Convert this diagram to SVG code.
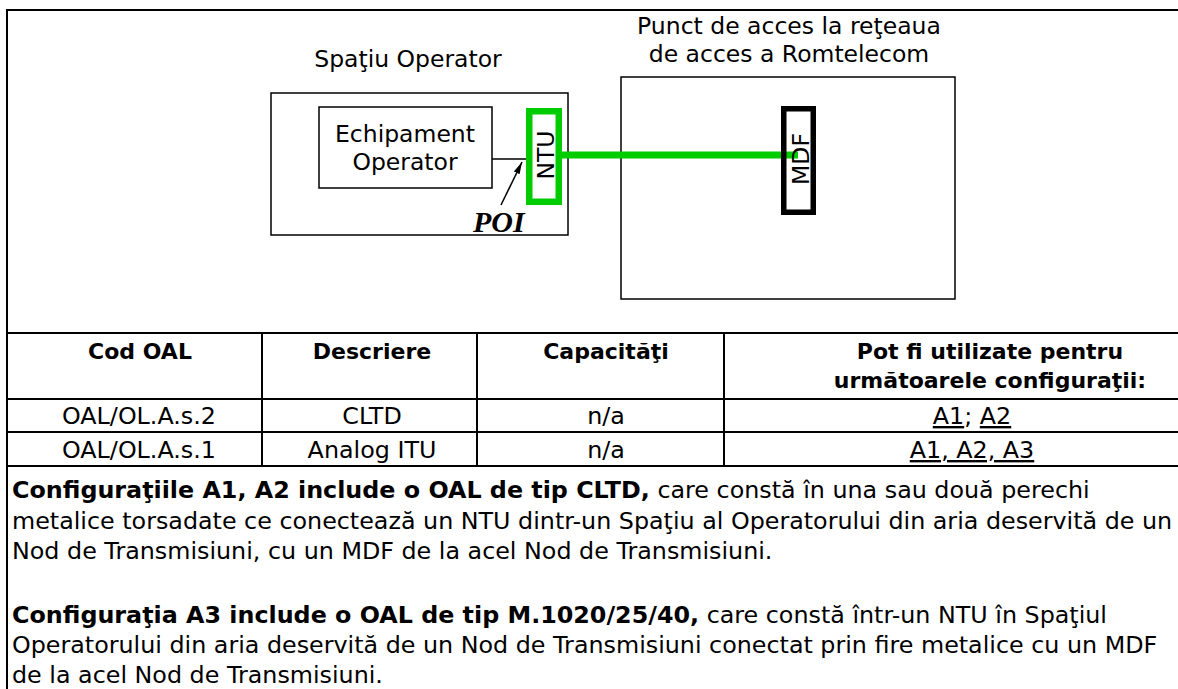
<svg xmlns="http://www.w3.org/2000/svg" width="1178" height="689" viewBox="0 0 1178 689">
<style>
.lbl{font-family:"DejaVu Sans",Verdana,sans-serif;font-size:23.5px;fill:#000;text-anchor:middle}
.th{font-family:"DejaVu Sans",Verdana,sans-serif;font-size:22px;font-weight:bold;fill:#000;text-anchor:middle}
.td{font-family:"DejaVu Sans",Verdana,sans-serif;font-size:23.8px;fill:#000;text-anchor:middle}
.body{font-family:"DejaVu Sans",Verdana,sans-serif;font-size:23.8px;fill:#000}
.b{font-weight:bold}
.box{fill:#fff;stroke:#000;stroke-width:1.5}
.grid{stroke:#000;stroke-width:2;fill:none}
</style>
<defs>
<marker id="ah" viewBox="0 0 10 10" refX="10" refY="5" markerWidth="12" markerHeight="8" orient="auto" markerUnits="userSpaceOnUse" preserveAspectRatio="none">
<path d="M0,1 L10,5 L0,9 z" fill="#000"/>
</marker>
</defs>
<rect width="1178" height="689" fill="#fff"/>
<g id="frame" class="grid">
<line x1="7" y1="10" x2="1178" y2="10"/>
<line x1="7" y1="9" x2="7" y2="689"/>
<line x1="7" y1="333" x2="1178" y2="333"/>
<line x1="7" y1="399" x2="1178" y2="399"/>
<line x1="7" y1="432" x2="1178" y2="432"/>
<line x1="7" y1="466" x2="1178" y2="466"/>
<line x1="262" y1="333" x2="262" y2="466"/>
<line x1="477" y1="333" x2="477" y2="466"/>
<line x1="724" y1="333" x2="724" y2="466"/>
</g>
<g id="spatiu-operator">
<rect class="box" x="271" y="93" width="297" height="142"/>
<text class="lbl" x="408" y="67">Spaţiu Operator</text>
</g>
<g id="punct-acces">
<rect class="box" x="621" y="77" width="334" height="222"/>
<text class="lbl" x="789" y="34">Punct de acces la reţeaua</text>
<text class="lbl" x="789" y="62">de acces a Romtelecom</text>
</g>
<g id="echipament">
<rect class="box" x="319" y="107" width="173" height="81"/>
<text class="lbl" x="405" y="142">Echipament</text>
<text class="lbl" x="405" y="170">Operator</text>
</g>
<g id="connectors">
<line x1="492" y1="159" x2="527" y2="159" stroke="#000" stroke-width="1.5"/>
<line x1="562" y1="155" x2="798" y2="155" stroke="#00cc00" stroke-width="7"/>
<line x1="501" y1="205" x2="522" y2="162" stroke="#000" stroke-width="1.5" marker-end="url(#ah)"/>
</g>
<g id="ntu">
<rect x="529.25" y="111.25" width="29.5" height="90.5" fill="none" stroke="#00cc00" stroke-width="6.5"/>
<text class="lbl" transform="translate(554,155) rotate(-90)">NTU</text>
</g>
<g id="mdf">
<rect x="783.75" y="108.75" width="29.5" height="103.5" fill="none" stroke="#000" stroke-width="5.5"/>
<text class="lbl" transform="translate(809,159) rotate(-90)">MDF</text>
</g>
<g id="poi">
<text x="473" y="232" font-family="'Liberation Serif','Times New Roman',serif" font-size="30" font-weight="bold" font-style="italic">POI</text>
</g>
<g id="table">
<text class="th" x="140" y="359">Cod OAL</text>
<text class="th" x="372" y="359">Descriere</text>
<text class="th" x="606" y="359">Capacităţi</text>
<text class="th" x="990" y="359">Pot fi utilizate pentru</text>
<text class="th" x="990" y="388">următoarele configuraţii:</text>
<text class="td" x="139" y="424">OAL/OL.A.s.2</text>
<text class="td" x="372" y="424">CLTD</text>
<text class="td" x="606" y="424">n/a</text>
<text class="td" x="972" y="424"><tspan text-decoration="underline">A1</tspan>; <tspan text-decoration="underline">A2</tspan></text>
<text class="td" x="139" y="458">OAL/OL.A.s.1</text>
<text class="td" x="372" y="458">Analog ITU</text>
<text class="td" x="606" y="458">n/a</text>
<text class="td" x="972" y="458" text-decoration="underline">A1, A2, A3</text>
</g>
<g id="notes">
<text class="body" x="12" y="498"><tspan class="b">Configuraţiile A1, A2 include o OAL de tip CLTD,</tspan> care constă în una sau două perechi</text>
<text class="body" x="12" y="529">metalice torsadate ce conectează un NTU dintr-un Spaţiu al Operatorului din aria deservită de un</text>
<text class="body" x="12" y="559">Nod de Transmisiuni, cu un MDF de la acel Nod de Transmisiuni.</text>
<text class="body" x="12" y="623"><tspan class="b">Configuraţia A3 include o OAL de tip M.1020/25/40,</tspan> care constă într-un NTU în Spaţiul</text>
<text class="body" x="12" y="653">Operatorului din aria deservită de un Nod de Transmisiuni conectat prin fire metalice cu un MDF</text>
<text class="body" x="12" y="683">de la acel Nod de Transmisiuni.</text>
</g>
</svg>
